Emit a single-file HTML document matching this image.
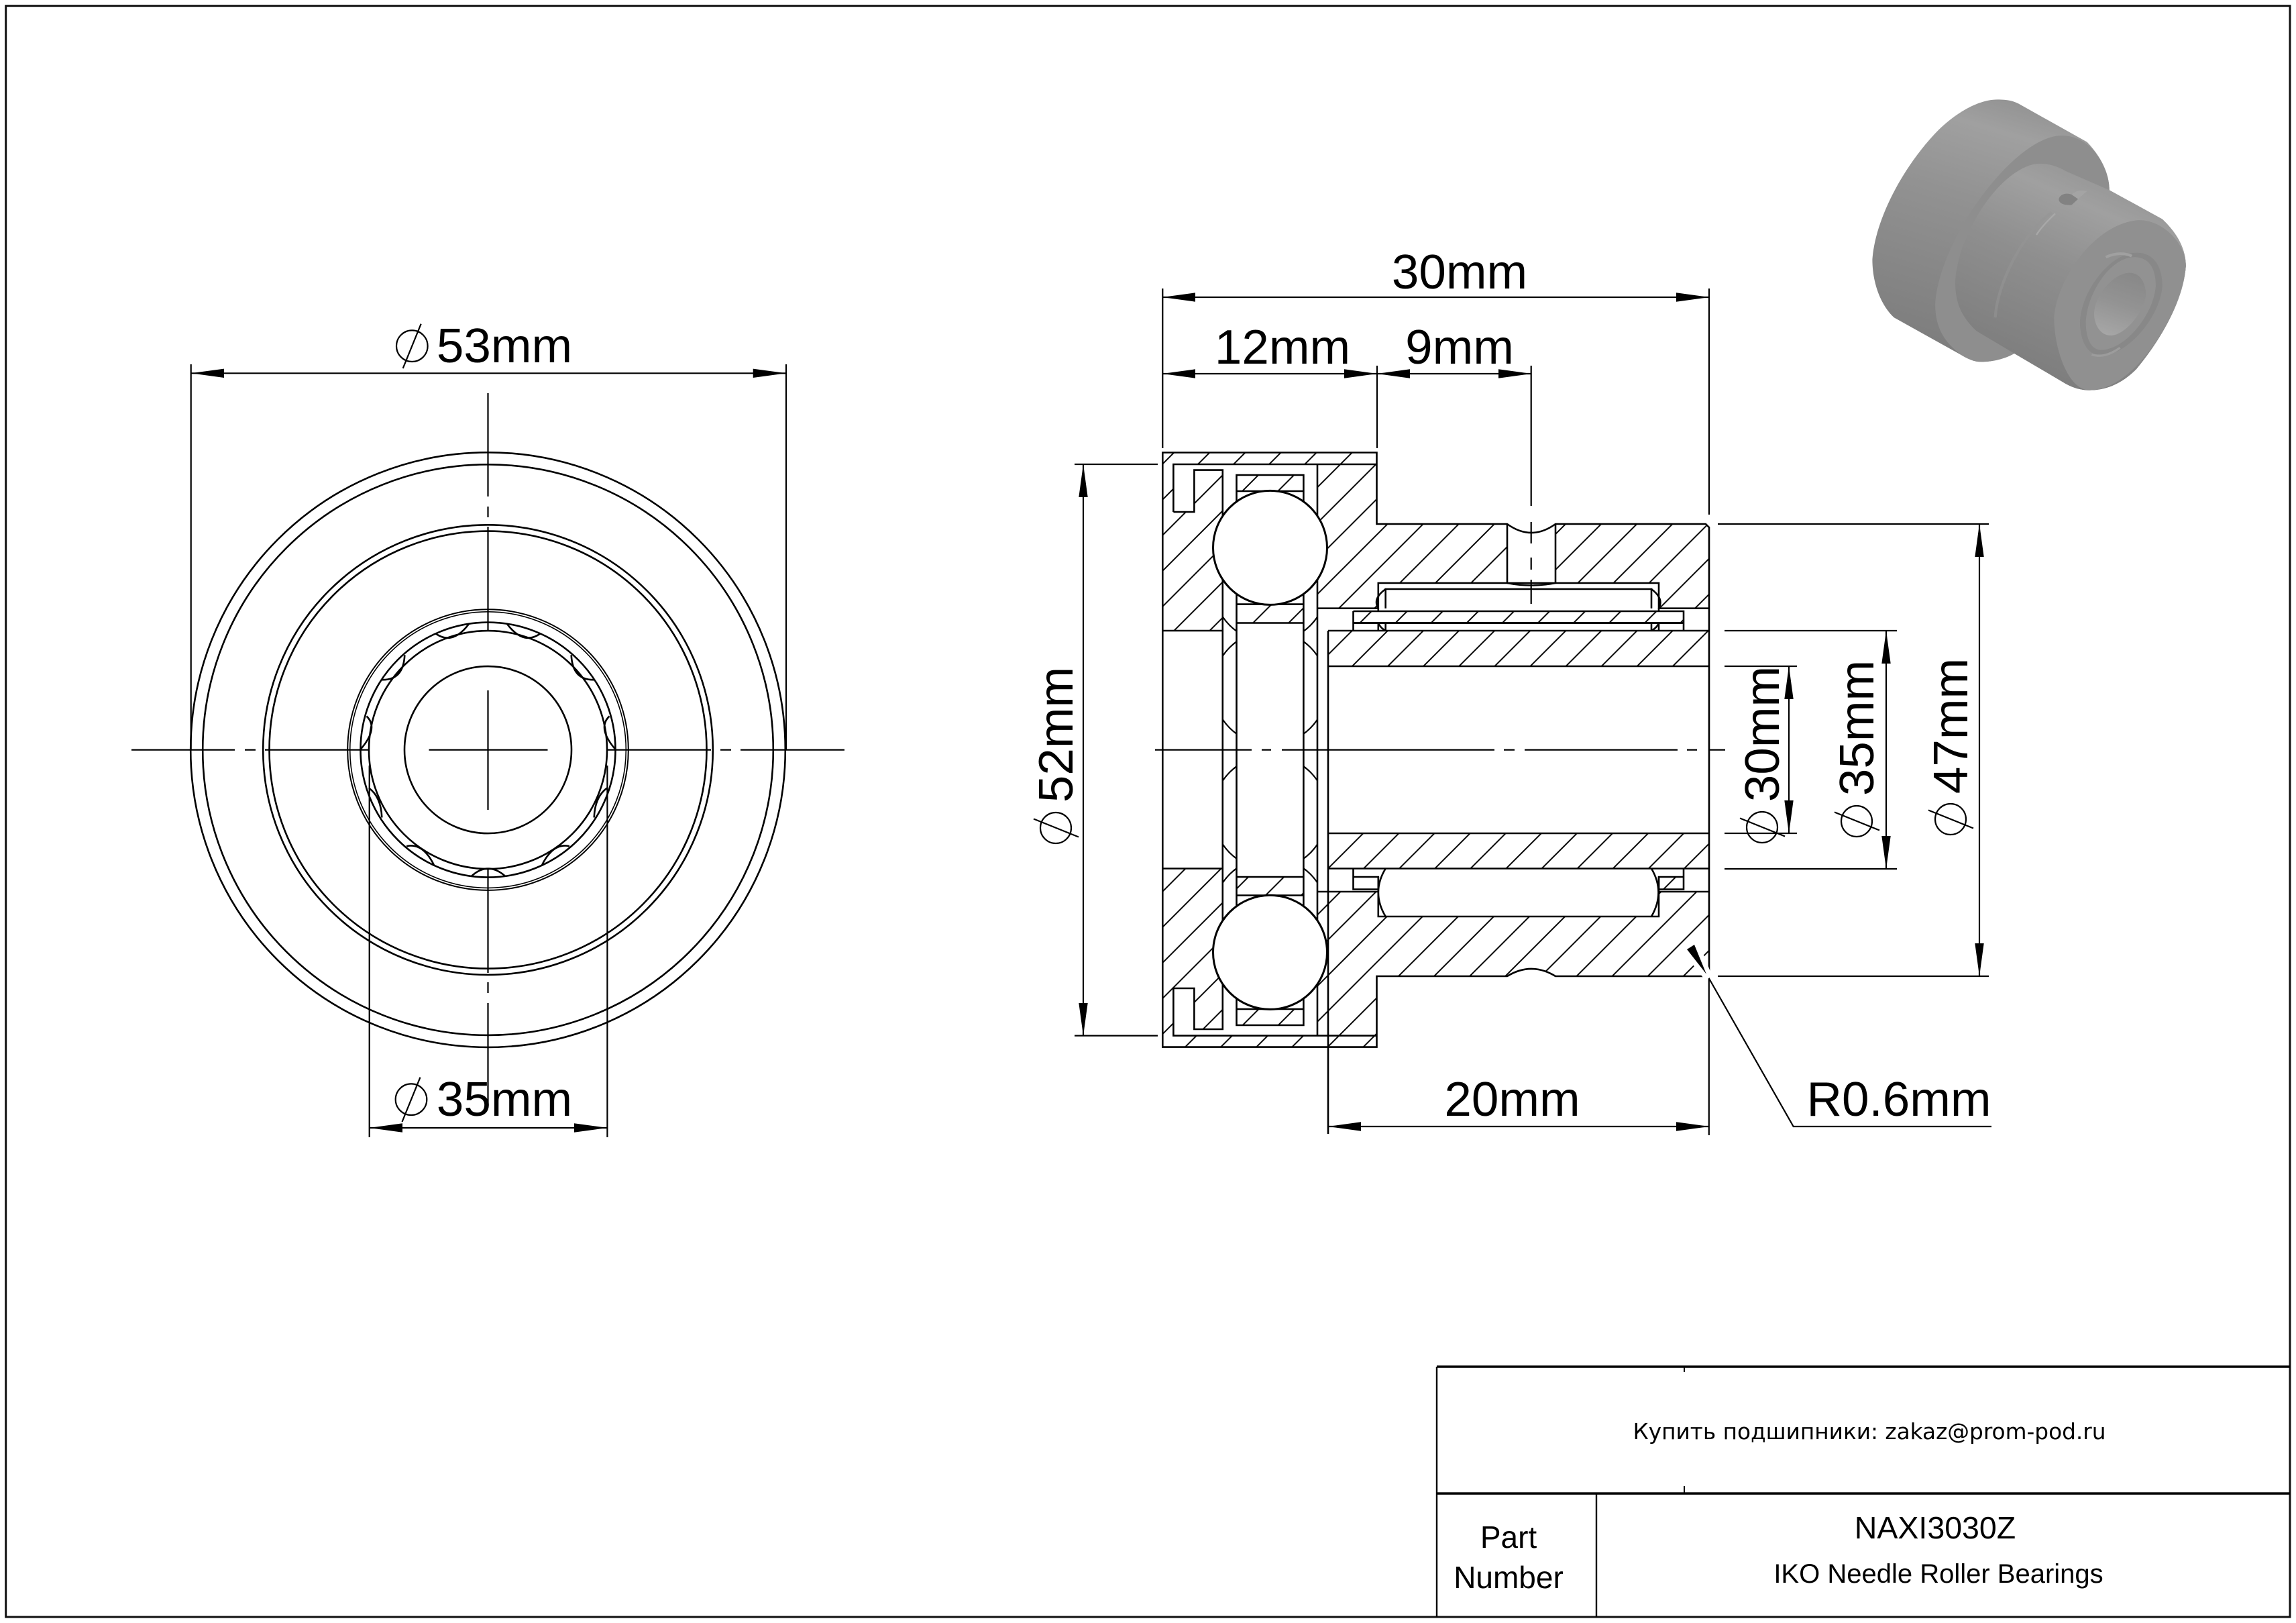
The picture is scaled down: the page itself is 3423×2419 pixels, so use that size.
<!DOCTYPE html>
<html>
<head>
<meta charset="utf-8">
<style>
html,body{margin:0;padding:0;background:#fff}
svg{display:block}
text{font-family:"Liberation Sans",sans-serif;fill:#000}
</style>
</head>
<body>
<svg xmlns="http://www.w3.org/2000/svg" width="3423" height="2419" viewBox="0 0 3423 2419">
<defs>
<pattern id="h" patternUnits="userSpaceOnUse" width="53.1" height="53.1" patternTransform="translate(35.3,0)">
<path d="M-5 58.1L58.1 -5M-5 5L5 -5M48.1 58.1L58.1 48.1" stroke="#000" stroke-width="2" fill="none"/>
</pattern>
<clipPath id="cols"><rect x="1822.8" y="700" width="20.7" height="835"/><rect x="1943.4" y="700" width="20.6" height="835"/></clipPath>
<linearGradient id="g1" gradientUnits="userSpaceOnUse" x1="720" y1="100" x2="380" y2="1200">
<stop offset="0" stop-color="#949494"/><stop offset=".12" stop-color="#a0a0a0"/><stop offset=".4" stop-color="#929292"/><stop offset="1" stop-color="#7d7d7d"/>
</linearGradient>
<linearGradient id="g2" gradientUnits="userSpaceOnUse" x1="1000" y1="400" x2="600" y2="1250">
<stop offset="0" stop-color="#979797"/><stop offset=".14" stop-color="#a0a0a0"/><stop offset=".45" stop-color="#8f8f8f"/><stop offset="1" stop-color="#7c7c7c"/>
</linearGradient>
<linearGradient id="g3" gradientUnits="userSpaceOnUse" x1="1220" y1="860" x2="1120" y2="1140">
<stop offset="0" stop-color="#888888"/><stop offset=".5" stop-color="#939393"/><stop offset="1" stop-color="#a6a6a6"/>
</linearGradient>
</defs>

<!-- frame -->
<rect x="8.7" y="8.7" width="3405.3" height="2401.3" fill="none" stroke="#111" stroke-width="3"/>

<!-- LEFT VIEW -->
<g fill="none" stroke="#000" stroke-width="2.6">
<circle cx="727.5" cy="1117.6" r="443.3"/>
<circle cx="727.5" cy="1117.6" r="425.3"/>
<circle cx="727.5" cy="1117.6" r="335.3"/>
<circle cx="727.5" cy="1117.6" r="326"/>
<circle cx="727.5" cy="1117.6" r="209.3" stroke-width="2"/>
<circle cx="727.5" cy="1117.6" r="205.8" stroke-width="1.6"/>
<circle cx="727.5" cy="1117.6" r="190"/>
<circle cx="727.5" cy="1117.6" r="177.5"/>
<circle cx="727.5" cy="1117.6" r="124.5"/>
<path d="M650 944.7Q675 962 699 930M805 944.7Q780 962 756 930M569.3 1013.2Q601.5 1014 603.3 976.3M885.7 1013.2Q853.5 1014 851.7 976.3M546.5 1067.5Q565 1085 537.7 1116.7M908.5 1067.5Q890 1085 917.3 1116.7M550 1174.6Q568 1187.5 569.3 1218.4M905 1174.6Q887 1187.5 885.7 1218.4M606.1 1261.2Q631 1255.8 647.5 1290.4M848.9 1261.2Q824 1255.8 807.5 1290.4M702.6 1306.1Q727.5 1283 753.5 1306.1"/>
</g>
<g fill="none" stroke="#000" stroke-width="2.2">
<path d="M727.5 586V740M727.5 755V771M727.5 785V940M727.5 1029V1207M727.5 1295V1450M727.5 1464V1480M727.5 1495V1649"/>
<path d="M196 1117.6H350M365 1117.6H381M395 1117.6H550M639.5 1117.6H816.5M905 1117.6H1060M1074 1117.6H1090M1104 1117.6H1259"/>
<path d="M284.7 543V1117M1172 543V1117M550.7 1141V1695M905.4 1141V1695"/>
<path d="M284.7 556.3H1172M550.7 1681H905.4"/>
</g>
<g fill="#000">
<path d="M284.7 556.3L334 549.6V563ZM1172 556.3L1122.7 549.6V563ZM550.7 1681L600 1674.3V1687.7ZM905.4 1681L856 1674.3V1687.7Z"/>
</g>
<g fill="none" stroke="#000" stroke-width="2.2">
<circle cx="614.3" cy="515.7" r="23.3"/><path d="M600.7 549L627.7 482.7"/>
<circle cx="613" cy="1638.7" r="23.3"/><path d="M599.5 1672L626.5 1605.7"/>
</g>
<text x="752" y="540" font-size="72.8" text-anchor="middle">53mm</text>
<text x="752" y="1663" font-size="72.8" text-anchor="middle">35mm</text>

<!-- SECTION VIEW -->
<path id="sil" d="M1733.3 674.5H2052.5V781H2247Q2283 807 2319 781H2543L2548 786V1450L2543 1455H2319Q2283 1433 2247 1455H2052.5V1560.6H1733.3Z" fill="url(#h)"/>
<g fill="#fff">
<path d="M1749.4 692H1964V1543.6H1749.4V1473H1780.4V1534H1822.8V700.6H1780.4V763H1749.4Z"/>
<rect x="1733.3" y="940" width="89.5" height="354.5"/>
<rect x="1964" y="906.7" width="584.5" height="422.3"/>
<rect x="2054.8" y="869" width="418.2" height="40"/>
<path d="M2247 790L2283 794L2319 790V869H2247Z"/>
<rect x="2054.8" y="1294.5" width="418.2" height="71.5"/>
<path d="M2247 1456Q2283 1433 2319 1456Z"/>
</g>
<path d="M2247 781Q2283 807 2319 781V772H2247Z" fill="#fff"/>
<path d="M1843.5 708H1943.4V732H1843.5ZM1843.5 900.6H1943.4V928.5H1843.5ZM1843.5 1307H1943.4V1334.5H1843.5ZM1843.5 1504H1943.4V1528H1843.5ZM2017.5 911H2510V928.5H2017.5ZM1980 940H2548V993H1980ZM1980 1242H2548V1294.5H1980ZM2473 1307H2510V1325.5H2473Z" fill="url(#h)"/>

<g clip-path="url(#cols)" fill="none" stroke="#000" stroke-width="2.2">
<circle cx="1893.5" cy="872" r="85"/><circle cx="1893.5" cy="1025" r="85"/><circle cx="1893.5" cy="1211" r="85"/><circle cx="1893.5" cy="1363" r="85"/>
</g>

<g fill="none" stroke="#000" stroke-width="2.6">
<path d="M1733.3 674.5H2052.5V781H2247Q2283 807 2319 781H2543L2548 786V1450L2543 1455H2319Q2283 1433 2247 1455H2052.5V1560.6H1733.3Z"/>
<path d="M2247 781V869M2319 781V869M2247 869Q2283 876 2319 869"/>
<path d="M1749.4 763V692H2052.5M1749.4 763H1780.4V700.6H1822.8V1534H1780.4V1473H1749.4V1543.6H2052.5"/>
<path d="M1964 692V1543.6"/>
<path d="M1843.5 708H1943.4V1528H1843.5ZM1843.5 732H1943.4M1843.5 900.6H1943.4M1843.5 928.5H1943.4M1843.5 1307H1943.4M1843.5 1334.5H1943.4M1843.5 1504H1943.4"/>
<path d="M1733.3 940H1822.8M1733.3 1294.5H1822.8"/>
<path d="M1980 940V1690M1980 940H2548M1980 993H2548M1980 1242H2548M1980 1294.5H2548"/>
<path d="M1964 906.7H2054.8V869H2473V906.7H2548M1964 1329H2054.8M2473 1329H2548"/>
<path d="M2017.5 911H2510V940M2017.5 911V940"/>
<path d="M2017.5 928.5H2510" stroke-width="3"/>
<path d="M2054.8 906.7V911M2473 906.7V911M2054.8 928.5V940M2473 928.5V940"/>
<path d="M2065.7 906.7V878H2462V906.7M2065.7 928.5V940M2462 928.5V940"/>
<path d="M2065.7 878Q2046 892 2054.8 906.7M2462 878Q2481 892 2473 906.7M2054.8 928.5Q2058 936 2065.7 940M2473 928.5Q2470 936 2462 940"/>
<path d="M2017.5 1294.5V1325.5H2054.8V1307H2017.5M2510 1294.5V1325.5H2473V1307H2510"/>
<path d="M2054.8 1307V1366H2473V1307"/>
<path d="M2065.7 1294.5Q2044 1330 2065.7 1366M2462 1294.5Q2483 1330 2462 1366"/>
</g>

<g fill="#fff" stroke="#000" stroke-width="3">
<circle cx="1893.5" cy="816.4" r="85"/>
<circle cx="1893.5" cy="1419.4" r="85"/>
</g>

<g fill="none" stroke="#000" stroke-width="2.2">
<path d="M1722 1117.6H1866M1881 1117.6H1895M1911 1117.6H2228M2242 1117.6H2258M2273 1117.6H2501M2515 1117.6H2530M2547 1117.6H2572"/>
<path d="M2282.7 545V754M2282.7 778V810M2282.7 831V849M2282.7 864V900"/>
</g>

<g fill="none" stroke="#000" stroke-width="2.2">
<path d="M1733.3 430V668M2548 430V767M2053 545V668"/>
<path d="M2547.8 1450V1692"/>
<path d="M1602 692H1726M1602 1543.6H1726"/>
<path d="M2561 781H2965M2561 1455H2965M2571 940H2828M2571 1295H2828M2571 993H2679M2571 1242H2679"/>
<path d="M1733 443H2548M1733 557H2283M1980 1679H2548"/>
<path d="M2667 993V1242M2812 940V1295M2951 781V1455M1615 692V1543.6"/>
<path d="M2546 1455L2673.7 1679H2969"/>
</g>
<path d="M2544 1452L2515 1415L2526 1408Z" fill="#000" stroke="#fff" stroke-width="14" stroke-linejoin="round" paint-order="stroke"/>
<g fill="#000">
<path d="M1733 443L1782 436.3V449.7ZM2548 443L2499 436.3V449.7Z"/>
<path d="M1733 557L1782 550.3V563.7ZM2053 557L2004 550.3V563.7ZM2053 557L2102 550.3V563.7ZM2283 557L2234 550.3V563.7Z"/>
<path d="M1980 1679L2029 1672.3V1685.7ZM2548 1679L2499 1672.3V1685.7Z"/>
<path d="M2667 993L2660.3 1042H2673.7ZM2667 1242L2660.3 1193H2673.7Z"/>
<path d="M2812 940L2805.3 989H2818.7ZM2812 1295L2805.3 1246H2818.7Z"/>
<path d="M2951 781L2944.3 830H2957.7ZM2951 1455L2944.3 1406H2957.7Z"/>
<path d="M1615 692L1608.3 741H1621.7ZM1615 1543.6L1608.3 1495H1621.7Z"/>
</g>

<g fill="none" stroke="#000" stroke-width="2.2">
<circle cx="1574" cy="1234" r="23"/><path d="M1541 1220.5L1608 1247.5"/>
<circle cx="2627" cy="1233" r="23"/><path d="M2594 1219.5L2661 1246.5"/>
<circle cx="2768" cy="1224" r="23"/><path d="M2735 1210.5L2802 1237.5"/>
<circle cx="2908" cy="1221" r="23"/><path d="M2875 1207.5L2942 1234.5"/>
</g>

<text x="2176" y="430" font-size="72.8" text-anchor="middle">30mm</text>
<text x="1912" y="542" font-size="72.8" text-anchor="middle">12mm</text>
<text x="2176" y="542" font-size="72.8" text-anchor="middle">9mm</text>
<text x="2254.5" y="1663" font-size="72.8" text-anchor="middle">20mm</text>
<text x="2831" y="1663" font-size="72.8" text-anchor="middle">R0.6mm</text>
<text transform="translate(1599,1095) rotate(-90)" font-size="72.8" text-anchor="middle">52mm</text>
<text transform="translate(2652,1094) rotate(-90)" font-size="72.8" text-anchor="middle">30mm</text>
<text transform="translate(2793,1085) rotate(-90)" font-size="72.8" text-anchor="middle">35mm</text>
<text transform="translate(2933,1082) rotate(-90)" font-size="72.8" text-anchor="middle">47mm</text>

<!-- 3D VIEW -->
<g transform="translate(2750,120) scale(.3509,.3333)">
<path d="M118 800C130 620 250 380 400 220C480 140 570 85 650 85C690 85 720 90 750 110L1030 275C1090 340 1125 420 1125 490L1350 620C1420 690 1450 760 1450 830C1440 980 1350 1150 1240 1290C1170 1365 1100 1385 1040 1385C1000 1385 960 1370 930 1350L720 1220C670 1250 620 1258 580 1258C550 1258 525 1245 500 1230L210 1060C150 1000 118 900 118 800Z" fill="url(#g1)"/>
<path d="M385 1000C400 720 700 280 900 248C1040 230 1125 380 1125 490L1130 500L720 1222C670 1250 620 1258 580 1258C550 1258 525 1245 500 1230C420 1170 385 1100 385 1000Z" fill="#8e8e8e"/>
<path d="M470 900C480 700 640 420 800 375C850 365 900 380 940 405L1125 490L1350 620C1420 690 1450 760 1450 830C1440 980 1350 1150 1240 1290C1170 1365 1100 1385 1040 1385C1000 1385 960 1370 930 1350L720 1220L560 1120C500 1060 470 1000 470 900Z" fill="url(#g2)"/>
<path d="M640 1060C650 900 760 680 880 590" stroke="#959595" stroke-width="12" fill="none" opacity=".55"/>
<path d="M890 1060C900 900 1050 650 1240 625C1340 615 1450 720 1450 830C1440 1000 1250 1385 1040 1385C950 1385 890 1200 890 1060Z" fill="#909090"/>
<path d="M1000 1080C1005 940 1130 770 1240 770C1320 770 1350 840 1350 920C1340 1060 1200 1230 1090 1230C1030 1230 1000 1160 1000 1080Z" fill="#888888"/>
<path d="M1025 1080C1030 950 1130 790 1230 790C1300 790 1322 850 1322 920C1312 1050 1190 1205 1090 1205C1045 1205 1025 1150 1025 1080Z" fill="#929292"/>
<path d="M1060 1040C1065 950 1150 860 1210 860C1260 860 1280 910 1280 960C1270 1040 1190 1140 1130 1140C1085 1140 1060 1090 1060 1040Z" fill="url(#g3)"/>
<path d="M910 530C915 510 940 500 965 510L992 530L965 556C935 560 910 550 910 530Z" fill="#828282"/>
<path d="M965 510C985 490 1010 490 1030 495L992 530Z" fill="#a4a4a4"/>
<path d="M815 690C840 650 870 620 895 595" stroke="#a8a8a8" stroke-width="7" fill="none"/>
<path d="M1110 790C1150 770 1190 770 1220 785" stroke="#a0a0a0" stroke-width="12" fill="none"/>
<path d="M1050 1225C1090 1240 1130 1225 1170 1195" stroke="#9c9c9c" stroke-width="10" fill="none"/>
</g>

<!-- TITLE BLOCK -->
<g fill="none" stroke="#000">
<path d="M2142 2037H3414" stroke-width="3.4"/>
<path d="M2142 2226H3414" stroke-width="3.4"/>
<path d="M2142 2037V2410" stroke-width="2.4"/>
<path d="M2380 2226V2410" stroke-width="2.4"/>
<path d="M2511 2037V2045M2511 2215V2226" stroke-width="2"/>
</g>
<text x="2787" y="2145" font-size="33" text-anchor="middle" textLength="705" lengthAdjust="spacingAndGlyphs" style="font-family:'DejaVu Sans',sans-serif">Купить подшипники: zakaz@prom-pod.ru</text>
<text x="2885" y="2293" font-size="46.5" text-anchor="middle">NAXI3030Z</text>
<text x="2890" y="2359" font-size="40" text-anchor="middle">IKO Needle Roller Bearings</text>
<text x="2249" y="2307" font-size="46" text-anchor="middle">Part</text>
<text x="2249" y="2367" font-size="46" text-anchor="middle">Number</text>
</svg>
</body>
</html>
